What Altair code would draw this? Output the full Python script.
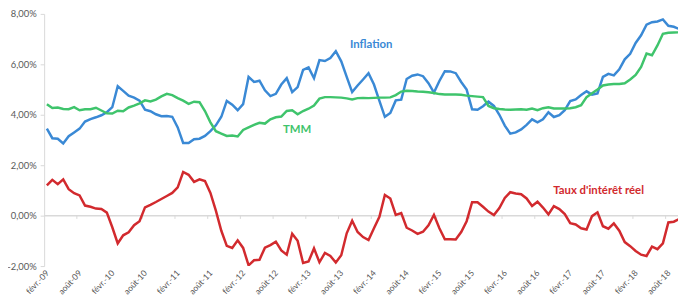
import altair as alt
import pandas as pd

# Monthly series, févr.-09 (index 0) to oct.-18 (index 116), in %
inflation = [3.45, 3.07, 3.05, 2.86, 3.15, 3.3, 3.45, 3.73, 3.83, 3.9,
             3.98, 4.1, 4.3, 5.13, 4.95, 4.76, 4.68, 4.56, 4.2, 4.14,
             4.02, 3.94, 3.95, 3.92, 3.5, 2.88, 2.88, 3.03, 3.05, 3.16,
             3.35, 3.58, 3.92, 4.55, 4.4, 4.18, 4.42, 5.5, 5.3, 5.35,
             4.97, 4.74, 4.83, 5.2, 5.45, 4.9, 5.1, 5.78, 5.88, 5.45,
             6.17, 6.13, 6.25, 6.52, 6.12, 5.5, 4.9, 5.16, 5.4, 5.65,
             5.2, 4.55, 3.92, 4.07, 4.57, 4.6, 5.42, 5.55, 5.6, 5.53,
             5.25, 4.88, 5.34, 5.73, 5.72, 5.65, 5.3, 5.0, 4.22, 4.2,
             4.34, 4.52, 4.35, 4.0, 3.57, 3.25, 3.3, 3.42, 3.6, 3.82,
             3.7, 3.82, 4.1, 3.91, 3.98, 4.18, 4.54, 4.61, 4.78, 4.93,
             4.8, 4.85, 5.5, 5.62, 5.56, 5.8, 6.2, 6.42, 6.85, 7.15,
             7.57, 7.67, 7.7, 7.78, 7.53, 7.49, 7.4]

tmm = [4.42, 4.27, 4.29, 4.23, 4.22, 4.3, 4.18, 4.22, 4.22, 4.28,
       4.17, 4.06, 4.05, 4.16, 4.14, 4.29, 4.36, 4.45, 4.57, 4.53,
       4.6, 4.73, 4.83, 4.78, 4.66, 4.56, 4.43, 4.52, 4.5, 4.15,
       3.7, 3.35, 3.25, 3.16, 3.18, 3.14, 3.4, 3.5, 3.6, 3.68,
       3.65, 3.82, 3.9, 3.93, 4.15, 4.18, 4.02, 4.15, 4.24, 4.37,
       4.64, 4.7, 4.7, 4.69, 4.68, 4.65, 4.61, 4.66, 4.67, 4.66,
       4.67, 4.68, 4.68, 4.69, 4.78, 4.92, 4.95, 4.94, 4.92, 4.91,
       4.89, 4.86, 4.82, 4.8, 4.8, 4.8, 4.79, 4.76, 4.74, 4.72,
       4.7, 4.35, 4.26, 4.23, 4.21, 4.2, 4.21, 4.22, 4.2, 4.25,
       4.18, 4.26, 4.3, 4.25, 4.25, 4.25, 4.26, 4.3, 4.38, 4.7,
       4.85, 5.0, 5.16, 5.2, 5.22, 5.22, 5.25, 5.4, 5.58, 5.9,
       6.43, 6.36, 6.75, 7.21, 7.25, 7.26, 7.27]

taux_reel = [1.2, 1.42, 1.25, 1.44, 1.05, 0.89, 0.8, 0.4, 0.35, 0.28,
             0.26, 0.12, -0.46, -1.1, -0.78, -0.66, -0.38, -0.22, 0.33, 0.43,
             0.54, 0.66, 0.78, 0.9, 1.12, 1.73, 1.62, 1.34, 1.44, 1.37,
             0.9, 0.2, -0.6, -1.2, -1.28, -0.98, -1.28, -1.97, -1.77, -1.75,
             -1.27, -1.17, -1.03, -1.38, -1.55, -0.72, -1.0, -1.88, -1.82, -1.3,
             -1.85, -1.48, -1.6, -1.86, -1.57, -0.7, -0.2, -0.65, -0.85, -0.97,
             -0.5, -0.05, 0.82, 0.68, 0.03, 0.1, -0.48, -0.59, -0.72, -0.64,
             -0.38, 0.03, -0.5, -0.94, -0.94, -0.95, -0.65, -0.22, 0.53, 0.53,
             0.35, 0.16, 0.02, 0.3, 0.7, 0.93, 0.88, 0.85, 0.68, 0.38,
             0.55, 0.32, 0.05, 0.38, 0.26, 0.06, -0.3, -0.35, -0.5, -0.55,
             -0.02, 0.13, -0.42, -0.52, -0.31, -0.6, -1.05, -1.21, -1.4, -1.55,
             -1.6, -1.23, -1.33, -1.1, -0.27, -0.24, -0.13]

tick_labels = ["févr.-09", "août-09", "févr.-10", "août-10", "févr.-11",
               "août-11", "févr.-12", "août-12", "févr.-13", "août-13",
               "févr.-14", "août-14", "févr.-15", "août-15", "févr.-16",
               "août-16", "févr.-17", "août-17", "févr.-18", "août-18"]

series_names = ["Inflation", "TMM", "Taux d'intérêt réel"]
series_colors = ["#3a89d5", "#3fc46c", "#d22a2e"]

label_text = ["Inflation", "TMM", "Taux d'intérêt réel"]
label_month = [59.5, 45.9, 101.2]
label_value = [6.77, 3.4, 0.97]

rows = []
for name, vals in zip(series_names, [inflation, tmm, taux_reel]):
    for i, v in enumerate(vals):
        rows.append({"serie": name, "mois": i, "valeur": v})
df = pd.DataFrame(rows)

labels_df = pd.DataFrame({"serie": series_names, "texte": label_text,
                          "mois": label_month, "valeur": label_value})

tick_df = pd.DataFrame({"pos": [6 * k - 0.5 for k in range(1, 21)]})
zero_df = pd.DataFrame({"valeur": [0]})

label_array = "[" + ",".join("'" + t + "'" for t in tick_labels) + "]"

x_scale = alt.Scale(domain=[-0.5, 115.77], nice=False, zero=False)
y_scale = alt.Scale(domain=[-2, 8], nice=False, zero=False)
color_scale = alt.Scale(domain=series_names, range=series_colors)

x_axis = alt.Axis(values=list(range(0, 115, 6)),
                  labelExpr=label_array + "[round(datum.value / 6)]",
                  domain=False, ticks=False, grid=False, title=None,
                  labelAngle=-47, labelAlign="right", labelBaseline="middle",
                  labelPadding=5, labelFont="Lato", labelFontSize=8.5,
                  labelColor="#595959", labelOverlap=False, labelBound=False)

y_axis = alt.Axis(values=[-2, 0, 2, 4, 6, 8],
                  labelExpr="replace(replace(format(datum.value, '.2f'), '.', ','), '\u2212', '-') + '%'",
                  domain=True, domainColor="#d9d9d9", domainWidth=1,
                  ticks=True, tickColor="#d9d9d9", tickSize=4,
                  grid=False, title=None, labelPadding=4,
                  labelFont="Lato", labelFontSize=9.5, labelColor="#595959")

zero_line = alt.Chart(zero_df).mark_rule(color="#d9d9d9", strokeWidth=1.5).encode(
    y=alt.Y("valeur:Q", scale=y_scale, axis=y_axis)
)

ticks = alt.Chart(tick_df).mark_rule(color="#d9d9d9", strokeWidth=1).encode(
    x=alt.X("pos:Q", scale=x_scale, axis=x_axis),
    y=alt.datum(0),
    y2=alt.datum(-0.13),
)

lines = alt.Chart(df).mark_line(strokeWidth=2.5, clip=True).encode(
    x=alt.X("mois:Q", scale=x_scale, axis=x_axis),
    y=alt.Y("valeur:Q", scale=y_scale, axis=y_axis),
    color=alt.Color("serie:N", scale=color_scale, legend=None),
    detail="serie:N",
)

texts = alt.Chart(labels_df).mark_text(font="Lato", fontWeight="bold", fontSize=11.5).encode(
    x=alt.X("mois:Q", scale=x_scale, axis=x_axis),
    y=alt.Y("valeur:Q", scale=y_scale, axis=y_axis),
    text="texte:N",
    color=alt.Color("serie:N", scale=color_scale, legend=None),
)

chart = alt.layer(zero_line, ticks, lines, texts).properties(
    width=641,
    height=255,
    padding={"left": 36.55, "top": 4.3, "right": 0, "bottom": 38},
    autosize=alt.AutoSizeParams(type="none"),
    background="white",
).configure_view(stroke=None)

chart.save("out.html", embed_options={"renderer": "svg", "actions": False})
